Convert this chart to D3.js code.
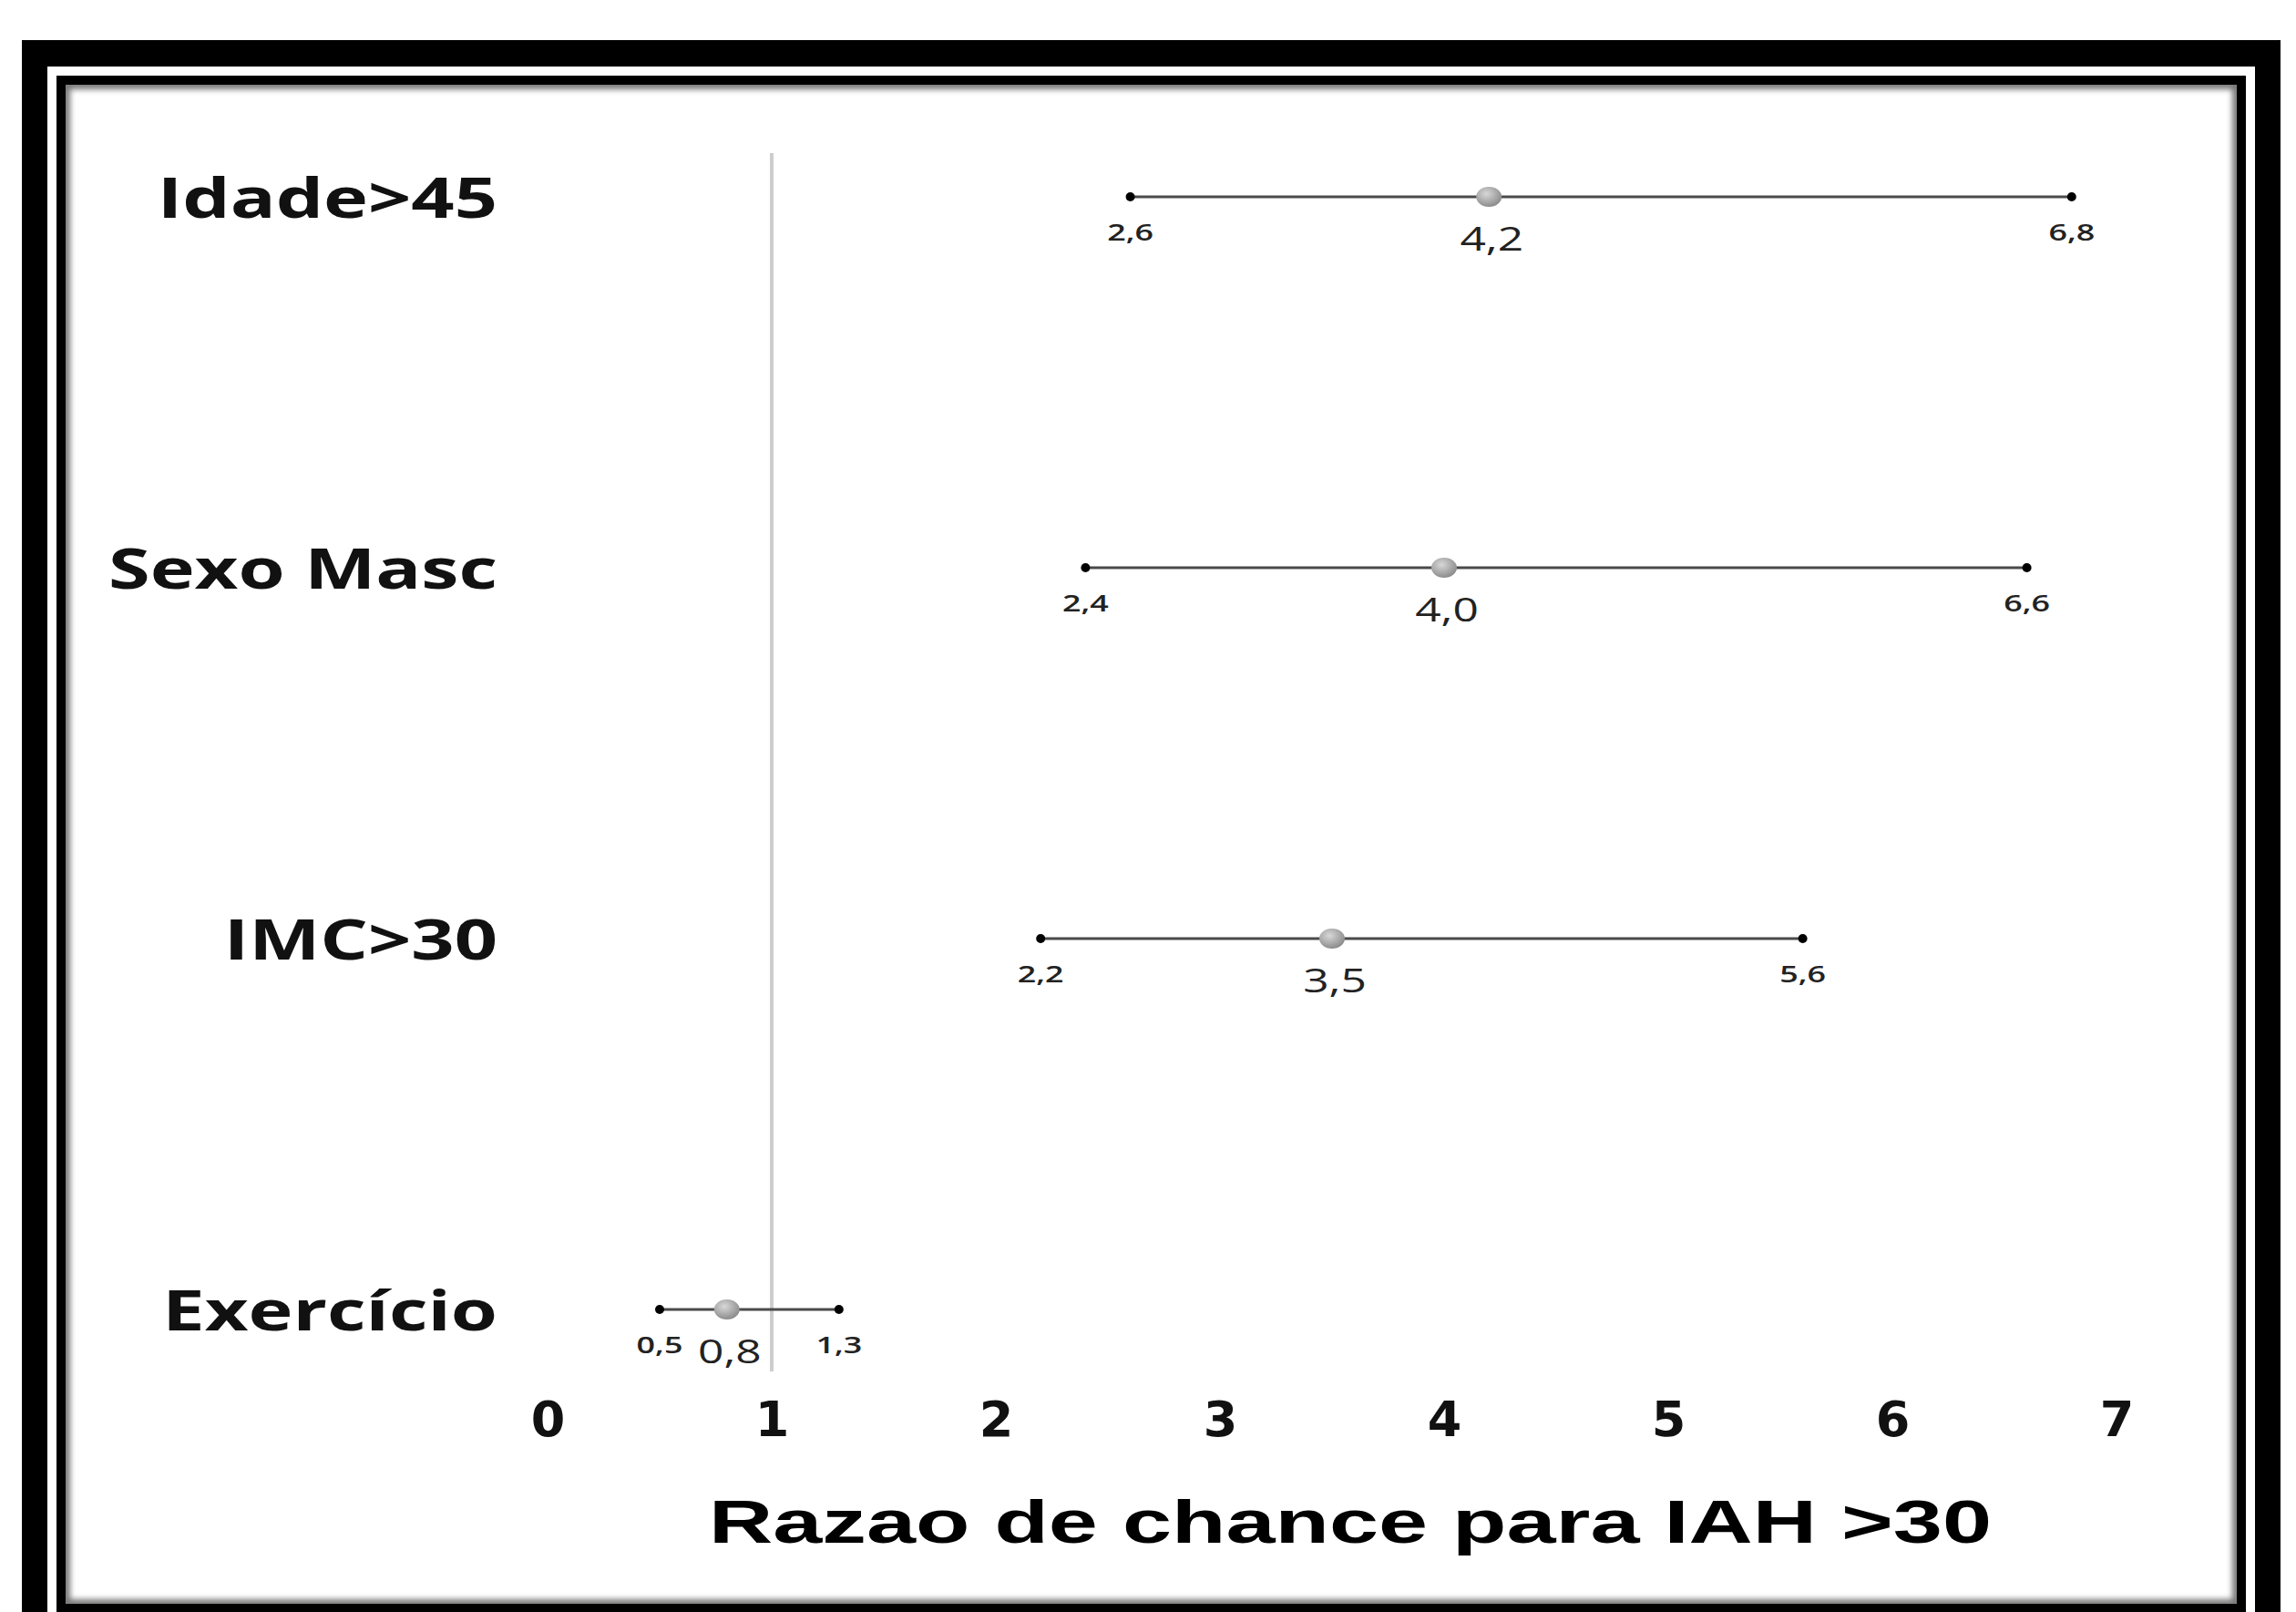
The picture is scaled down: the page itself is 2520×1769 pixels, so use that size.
<!DOCTYPE html>
<html>
<head>
<meta charset="utf-8">
<script src="https://cdn.jsdelivr.net/npm/d3@7"></script>
<style>
  body { margin: 0; background: #fff; }
  svg { display: block; }
</style>
</head>
<body>
<script>
// odds ratios with 95% CI, one row per factor
var categories = ["Idade>45", "Sexo Masc", "IMC>30", "Exercício"];
var oddsRatio = [4.2, 4.0, 3.5, 0.8];
var ciLower = [2.6, 2.4, 2.2, 0.5];
var ciUpper = [6.8, 6.6, 5.6, 1.3];
var xTicks = [0, 1, 2, 3, 4, 5, 6, 7];
var axisTitle = "Razao de chance para IAH >30";

var W = 2520, H = 1769;
var stretch = 1.38; // the original picture is stretched sideways

var ptBR = d3.formatLocale({decimal: ",", thousands: ".", grouping: [3], currency: ["R$", ""]});
var fmt = ptBR.format(".1f");

var x = d3.scaleLinear().domain([0, 7]).range([601, 2323]);
var y = d3.scalePoint().domain(categories).range([216, 1437]);

var rows = categories.map(function(c, i) {
  return {name: c, or: oddsRatio[i], lo: ciLower[i], hi: ciUpper[i]};
});

var svg = d3.select("body").append("svg")
    .attr("width", W)
    .attr("height", H);

var defs = svg.append("defs");
var grad = defs.append("radialGradient")
    .attr("id", "dot")
    .attr("cx", "40%").attr("cy", "35%").attr("r", "65%");
grad.append("stop").attr("offset", "0%").attr("stop-color", "#d8d8d8");
grad.append("stop").attr("offset", "100%").attr("stop-color", "#8c8c8c");

defs.append("clipPath").attr("id", "panelClip")
  .append("rect")
    .attr("x", 72).attr("y", 93).attr("width", 2383).attr("height", 1667);

defs.append("filter").attr("id", "blur")
  .append("feGaussianBlur").attr("stdDeviation", 3);

// double black frame
svg.append("rect").attr("x", 24).attr("y", 44).attr("width", 2479).attr("height", 1800).attr("fill", "#000");
svg.append("rect").attr("x", 52).attr("y", 73).attr("width", 2423).attr("height", 1800).attr("fill", "#fff");
svg.append("rect").attr("x", 62).attr("y", 83).attr("width", 2403).attr("height", 1800).attr("fill", "#000");
svg.append("rect").attr("x", 72).attr("y", 93).attr("width", 2383).attr("height", 1667).attr("fill", "#fff");

// soft inner shadow on the panel
svg.append("g")
    .attr("clip-path", "url(#panelClip)")
  .append("rect")
    .attr("x", 72).attr("y", 93).attr("width", 2383).attr("height", 1667)
    .attr("fill", "none")
    .attr("stroke", "#777")
    .attr("stroke-width", 10)
    .attr("filter", "url(#blur)");

// reference line at OR = 1
svg.append("line")
    .attr("x1", x(1)).attr("x2", x(1))
    .attr("y1", y(categories[0]) - 48)
    .attr("y2", y(categories[categories.length - 1]) + 68)
    .attr("stroke", "#cdcdcd")
    .attr("stroke-width", 4);

// category labels
svg.selectAll(".cat")
    .data(rows)
  .enter().append("text")
    .attr("class", "cat")
    .attr("transform", function(d) { return "translate(546," + (y(d.name) + 23) + ") scale(" + stretch + ",1)"; })
    .attr("text-anchor", "end")
    .style("font-family", "'Open Sans', sans-serif")
    .style("font-weight", "bold")
    .style("font-size", "60px")
    .style("fill", "#111")
    .text(function(d) { return d.name; });

var row = svg.selectAll(".row")
    .data(rows)
  .enter().append("g")
    .attr("class", "row");

row.append("line")
    .attr("x1", function(d) { return x(d.lo); })
    .attr("x2", function(d) { return x(d.hi); })
    .attr("y1", function(d) { return y(d.name); })
    .attr("y2", function(d) { return y(d.name); })
    .attr("stroke", "#4a4a4a")
    .attr("stroke-width", 3);

row.selectAll(".end")
    .data(function(d) { return [{v: d.lo, n: d.name}, {v: d.hi, n: d.name}]; })
  .enter().append("circle")
    .attr("class", "end")
    .attr("cx", function(d) { return x(d.v); })
    .attr("cy", function(d) { return y(d.n); })
    .attr("r", 5)
    .attr("fill", "#000");

row.append("ellipse")
    .attr("cx", function(d) { return x(d.or); })
    .attr("cy", function(d) { return y(d.name); })
    .attr("rx", 14)
    .attr("ry", 11)
    .attr("fill", "url(#dot)");

// CI end labels
row.selectAll(".ci")
    .data(function(d) { return [{v: d.lo, n: d.name}, {v: d.hi, n: d.name}]; })
  .enter().append("text")
    .attr("class", "ci")
    .attr("transform", function(d) { return "translate(" + x(d.v) + "," + (y(d.n) + 48) + ") scale(" + stretch + ",1)"; })
    .attr("text-anchor", "middle")
    .style("font-family", "'Open Sans', sans-serif")
    .style("font-weight", "600")
    .style("font-size", "26px")
    .style("fill", "#222")
    .text(function(d) { return fmt(d.v); });

// point estimate labels
row.append("text")
    .attr("transform", function(d) { return "translate(" + (x(d.or) + 3) + "," + (y(d.name) + 59) + ") scale(" + stretch + ",1)"; })
    .attr("text-anchor", "middle")
    .style("font-family", "'Open Sans', sans-serif")
    .style("font-size", "36px")
    .style("fill", "#222")
    .text(function(d) { return fmt(d.or); });

// x axis: labels only
var xAxis = d3.axisBottom(x)
    .tickValues(xTicks)
    .tickSize(0)
    .tickPadding(0)
    .tickFormat(d3.format("d"));

var gx = svg.append("g")
    .attr("class", "x axis")
    .attr("transform", "translate(0,1538)")
    .call(xAxis);
gx.select(".domain").remove();
gx.selectAll("text")
    .style("font-family", "'DejaVu Sans', sans-serif")
    .style("font-weight", "bold")
    .style("font-size", "54px")
    .style("fill", "#111");

svg.append("text")
    .attr("x", 1482)
    .attr("y", 1693)
    .attr("text-anchor", "middle")
    .attr("textLength", 1408)
    .attr("lengthAdjust", "spacingAndGlyphs")
    .style("font-family", "'Liberation Sans', Arial, sans-serif")
    .style("font-weight", "bold")
    .style("font-size", "67px")
    .style("fill", "#000")
    .text(axisTitle);
</script>
</body>
</html>
